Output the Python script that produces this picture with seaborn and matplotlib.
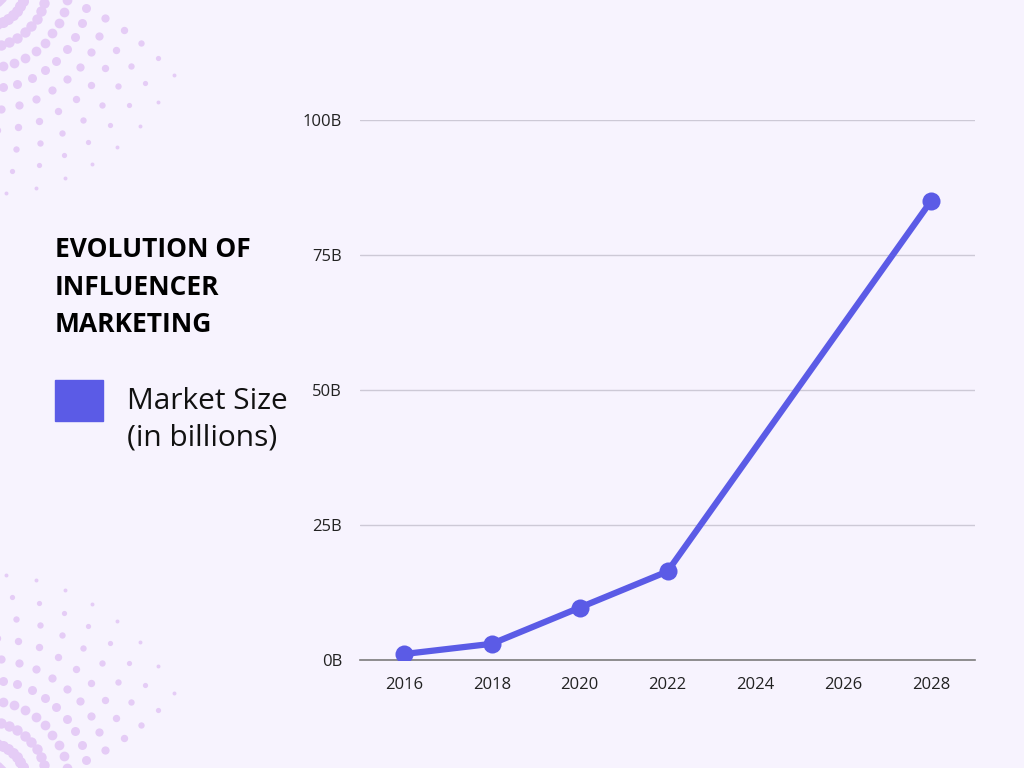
import numpy as np
import pandas as pd
import matplotlib
matplotlib.use("Agg")
import matplotlib.pyplot as plt
import seaborn as sns

# data
years = [2016, 2018, 2020, 2022, 2028]
market_size = [1.1, 3.0, 9.7, 16.4, 85.0]
y_ticks = [0, 25, 50, 75, 100]
y_labels = ["0B", "25B", "50B", "75B", "100B"]
x_ticks = [2016, 2018, 2020, 2022, 2024, 2026, 2028]

bg = "#f7f3fe"
purple = "#5b5be6"
dot_color = "#e5ccf6"

sns.set_theme(style="white")
plt.rcParams['font.family'] = ['Open Sans', 'DejaVu Sans']

df = pd.DataFrame({"year": years, "size": market_size})

fig = plt.figure(figsize=(10.24, 7.68), dpi=100, facecolor=bg)

# decorative dot fans in the left corners
deco = fig.add_axes([0, 0, 1, 1], zorder=0)
deco.set_xlim(0, 1024)
deco.set_ylim(768, 0)
deco.axis("off")
for cx, cy, a0, a1, twist in [(-15, -15, 0, 90, 1), (-15, 783, -90, 0, -1)]:
    for i, r in enumerate(np.arange(20, 225, 21)):
        off = twist * i * 2.5
        for ang in np.linspace(a0 + 3 + off, a1 - 3 + off, 11):
            if not (a0 - 2 <= ang <= a1 + 2):
                continue
            px = cx + r * np.cos(np.radians(ang))
            py = cy + r * np.sin(np.radians(ang))
            s = max(70 - i * 7, 8)
            deco.scatter(px, py, s=s, color=dot_color, lw=0)

ax = fig.add_axes([360 / 1024, 108 / 768, 615 / 1024, 540 / 768], zorder=1)
ax.set_facecolor("none")
sns.lineplot(data=df, x="year", y="size", ax=ax, color=purple, lw=4.5,
             marker="o", markersize=13, markeredgewidth=0, zorder=3)

ax.set_xlim(2015, 2029)
ax.set_ylim(0, 100)
ax.set_xticks(x_ticks)
ax.set_xticklabels([str(x) for x in x_ticks])
ax.set_yticks(y_ticks)
ax.set_yticklabels(y_labels)
ax.tick_params(axis="both", length=0, labelsize=12, labelcolor="#222222")
ax.tick_params(axis="y", pad=13)
ax.tick_params(axis="x", pad=12)
ax.set_xlabel("")
ax.set_ylabel("")
ax.grid(axis="y", color="#cdc9d6", lw=1)
ax.grid(axis="x", visible=False)
ax.spines[['right', 'top', 'left']].set_visible(False)
ax.spines['bottom'].set_color("#7c7c7c")
ax.spines['bottom'].set_linewidth(1.2)

# title and legend on the left
fig.text(55 / 1024, 1 - 287 / 768, "EVOLUTION OF\nINFLUENCER\nMARKETING",
         fontsize=19, fontweight="bold", color="black", va="center", ha="left",
         linespacing=1.5)
fig.patches.append(plt.Rectangle((55 / 1024, 1 - 421 / 768), 48 / 1024, 41 / 768,
                                 transform=fig.transFigure, color=purple))
fig.text(127 / 1024, 1 - 420 / 768, "Market Size\n(in billions)", fontsize=21.5,
         color="#111111", va="center", ha="left", linespacing=1.35)

fig.savefig("out.png", dpi=100, facecolor=bg)
